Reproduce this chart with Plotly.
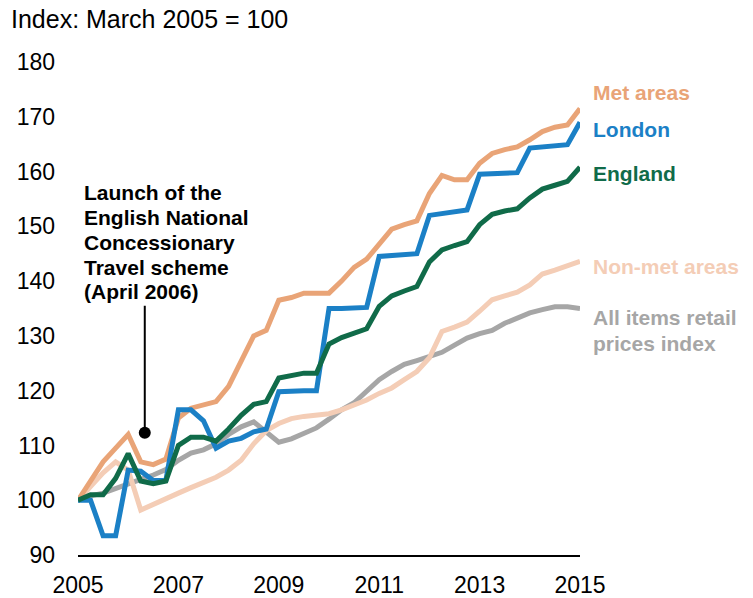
import plotly.graph_objects as go

# Quarterly index values, March 2005 = 100 (2005 Q1 .. 2015 Q1)
quarters = [2005 + q / 4 for q in range(41)]

met_areas = [100, 103.5, 107, 109.5, 112, 107, 106.5, 107.5, 115, 116.8,
             117.3, 118, 120.8, 125.5, 130, 131, 136.5, 137, 137.8, 137.8,
             137.8, 140, 142.5, 144, 146.7, 149.5, 150.3, 151, 156, 159.3,
             158.5, 158.5, 161.5, 163.3, 164, 164.5, 165.8, 167.3, 168.1, 168.5,
             171.5]

london = [100, 100, 93.5, 93.5, 105.5, 105.3, 103.6, 103.6, 116.5, 116.5,
          114.5, 109.5, 110.8, 111.3, 112.5, 113, 119.8, 120, 120, 120,
          135, 135, 135, 135.2, 144.5, 144.6, 144.8, 145, 152, 152.3,
          152.6, 153, 159.5, 159.6, 159.7, 159.8, 164.3, 164.5, 164.7, 164.9,
          169]

england = [100, 101, 101, 104, 108.5, 103.5, 103, 103.5, 110, 111.5,
           111.5, 110.8, 113, 115.5, 117.5, 118, 122.3, 122.8, 123.2, 123.2,
           128.5, 129.7, 130.6, 131.3, 135.4, 137.3, 138.2, 139, 143.5, 145.7,
           146.5, 147.2, 150.3, 152.2, 152.8, 153.2, 155.2, 156.8, 157.5, 158.2,
           160.8]

non_met_areas = [100, 102.5, 105, 107, 105.5, 98.2, 99.3, 100.2, 101.3, 102.3,
                 103.2, 104.2, 105.5, 107.3, 110.3, 112.7, 114, 114.9, 115.3, 115.5,
                 115.8, 116.5, 117.3, 118.3, 119.5, 120.5, 122, 123.5, 126, 130.8,
                 131.6, 132.5, 134.5, 136.6, 137.3, 138, 139.3, 141.3, 142, 142.7,
                 143.6]

retail_prices = [100, 100.8, 101.3, 102.2, 103, 103.8, 104.6, 105.6, 107.3, 108.6,
                 109.2, 110.3, 112, 113.4, 114.3, 112.5, 110.6, 111.2, 112.2, 113.2,
                 114.8, 116.5, 117.8, 119.8, 122, 123.5, 124.8, 125.5, 126.3, 127,
                 128.3, 129.6, 130.4, 131, 132.3, 133.2, 134.2, 134.8, 135.3, 135.3,
                 135]

x_ticks = [2005, 2007, 2009, 2011, 2013, 2015]
y_ticks = [90, 100, 110, 120, 130, 140, 150, 160, 170, 180]

FONT = "Liberation Sans, Arial, sans-serif"

series = [
    ("All items retail prices index", retail_prices, "#A6A6A6"),
    ("Non-met areas", non_met_areas, "#F4CDB6"),
    ("Met areas", met_areas, "#E9A477"),
    ("London", london, "#1B80C6"),
    ("England", england, "#106B49"),
]

fig = go.Figure()
for name, values, color in series:
    fig.add_trace(go.Scatter(
        x=quarters, y=values, name=name, mode="lines",
        line=dict(color=color, width=5), showlegend=False,
        hoverinfo="skip",
    ))

# Marker for the launch of the concessionary travel scheme
launch_x = 2006.33
launch_dot_y = 112.3
launch_line_top = 135.5
fig.add_shape(type="line", xref="x", yref="y",
              x0=launch_x, x1=launch_x, y0=launch_dot_y, y1=launch_line_top,
              line=dict(color="black", width=2))
fig.add_trace(go.Scatter(x=[launch_x], y=[launch_dot_y], mode="markers",
                         marker=dict(color="black", size=12),
                         showlegend=False, hoverinfo="skip"))

annotations = []

# End-of-line series labels, placed just right of the plot area
end_labels = [
    (["Met areas"], 174.5, "#E9A477"),
    (["London"], 167.6, "#1B80C6"),
    (["England"], 159.6, "#106B49"),
    (["Non-met areas"], 142.6, "#F4CDB6"),
    (["All items retail", "prices index"], 133.4, "#A6A6A6"),
]
for lines, y0, color in end_labels:
    for k, line in enumerate(lines):
        annotations.append(dict(
            x=1.022, y=y0 - k * 4.75, xref="paper", yref="y",
            text=f"<b>{line}</b>", showarrow=False,
            xanchor="left", yanchor="middle",
            font=dict(family=FONT, size=21, color=color),
        ))

# Scheme note, one annotation per line for tight spacing
note_lines = ["Launch of the", "English National", "Concessionary",
              "Travel scheme", "(April 2006)"]
for k, line in enumerate(note_lines):
    annotations.append(dict(
        x=2005.07, y=156.1 - k * 4.52, xref="x", yref="y",
        text=f"<b>{line}</b>", showarrow=False,
        xanchor="left", yanchor="middle",
        font=dict(family=FONT, size=21, color="black"),
    ))

fig.update_layout(
    width=753, height=598,
    margin=dict(l=78, r=173, t=62, b=43),
    paper_bgcolor="white", plot_bgcolor="white",
    font=dict(family=FONT, color="black"),
    title=dict(text="Index: March 2005 = 100", x=11 / 753, xanchor="left",
               y=1 - 19 / 598, yanchor="middle",
               font=dict(family=FONT, size=25, color="black")),
    annotations=annotations,
)

fig.update_xaxes(
    range=[2005, 2015], tickvals=x_ticks, ticktext=[str(v) for v in x_ticks],
    showgrid=False, zeroline=False, showline=True, linecolor="black",
    linewidth=2, ticks="", ticklabelstandoff=8, automargin=False,
    tickfont=dict(family=FONT, size=23, color="black"),
)
fig.update_yaxes(
    range=[90, 180], tickvals=y_ticks, showgrid=False, zeroline=False,
    showline=False, ticks="", ticklabelstandoff=22, automargin=False,
    tickfont=dict(family=FONT, size=23, color="black"),
)

fig.write_html("out.html")
